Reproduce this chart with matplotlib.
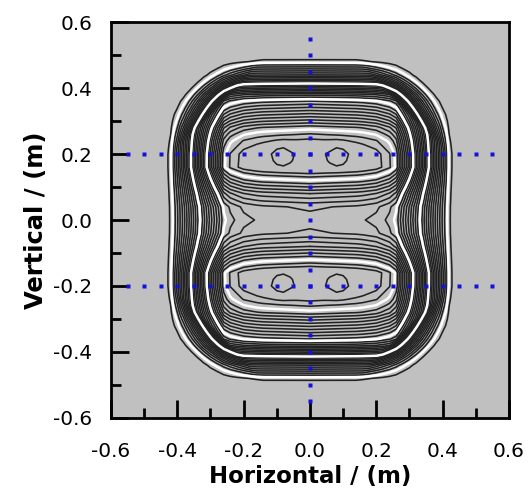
import numpy as np
import matplotlib.pyplot as plt

# field description (values in contour-level units)
row_y = [0.2, -0.2]            # centres of the two lobes
peak_x = [-0.086, 0.086]       # small peaks inside each lobe
peak_amp = 1.0
peak_sig = 0.02
centre_val = 18.6

# side profile of a lobe: distance from x = 0 -> level
prof_x_pos = [0.0, 0.15, 0.2, 0.255, 0.31, 0.386, 0.417, 0.435, 0.7]
prof_x_val = [18.6, 18.3, 17.95, 17.0, 12.0, 4.0, 1.0, 0.0, 0.0]
# outward (top of upper lobe / bottom of lower lobe)
prof_out_pos = [0.0, 0.04, 0.075, 0.17, 0.24, 0.264, 0.276, 0.29, 0.7]
prof_out_val = [18.6, 18.0, 17.0, 12.0, 4.0, 2.0, 1.0, 0.0, 0.0]
# inward (towards the waist at y = 0)
prof_in_pos = [0.0, 0.04, 0.08, 0.12, 0.16, 0.2, 0.24, 0.28, 0.32, 0.4, 0.5, 0.7]
prof_in_val = [18.6, 17.9, 15.2, 11.8, 8.8, 6.65, 4.8, 3.2, 1.8, 0.3, 0.0, 0.0]
# corner cut on the outer side
chamfer_pos = [0.0, 0.42, 0.58, 1.5]
chamfer_val = [1.0, 1.0, 0.0, 0.0]

grid_step = 0.02
levels = list(np.arange(0.5, 17.6, 0.5)) + [18.0, 19.0]
white_levels = [1.0, 7.0, 12.0, 17.0]

guide_pts = np.round(np.arange(-0.55, 0.551, 0.05), 2)
guide_rows = [0.2, -0.2]
guide_col = 0.0

xticks = [-0.6, -0.4, -0.2, 0.0, 0.2, 0.4, 0.6]
yticks = [-0.6, -0.4, -0.2, 0.0, 0.2, 0.4, 0.6]
minor_ticks = [-0.5, -0.3, -0.1, 0.1, 0.3, 0.5]

g = np.arange(-0.6, 0.6 + grid_step / 2, grid_step)
X, Y = np.meshgrid(g, g)
fx = np.interp(np.abs(X), prof_x_pos, prof_x_val)
Z = np.zeros_like(X)
for y0 in row_y:
    u = Y - y0
    au = np.abs(u)
    outward = np.sign(u) == np.sign(y0)
    fy = np.where(outward,
                  np.interp(au, prof_out_pos, prof_out_val),
                  np.interp(au, prof_in_pos, prof_in_val))
    cut = np.where(outward, np.interp(np.abs(X) + au, chamfer_pos, chamfer_val), 1.0)
    Z += fx * fy * cut / centre_val
    for x0 in peak_x:
        Z += peak_amp * np.exp(-((X - x0) ** 2 + (Y - y0) ** 2) / (2 * peak_sig ** 2))

plt.rcParams['font.family'] = ['DejaVu Sans']
fig = plt.figure(figsize=(5.32, 4.90), dpi=100)
ax = fig.add_axes([0.2086, 0.147, 0.748, 0.808])
ax.set_facecolor('#c0c0c0')

black_lv = [lv for lv in levels if lv not in white_levels]
ax.contour(X, Y, Z, levels=black_lv, colors='#222222', linewidths=1.15)
ax.contour(X, Y, Z, levels=white_levels, colors='white', linewidths=1.8)

for gy in guide_rows:
    ax.plot(guide_pts, [gy] * len(guide_pts), ls='none', marker='s', ms=3.4,
            mfc='#1212dc', mec='none', zorder=5, clip_on=False)
ax.plot([guide_col] * len(guide_pts), guide_pts, ls='none', marker='s', ms=3.4,
        mfc='#1212dc', mec='none', zorder=5, clip_on=False)

ax.set_xlim(-0.6, 0.6)
ax.set_ylim(-0.6, 0.6)
ax.set_xticks(xticks)
ax.set_yticks(yticks)
ax.set_xticklabels([f'{v:.1f}' for v in xticks])
ax.set_yticklabels([f'{v:.1f}' for v in yticks])
ax.set_xticks(minor_ticks, minor=True)
ax.set_yticks(minor_ticks, minor=True)
ax.tick_params(which='both', direction='in', top=False, right=False, width=2,
               labelsize=14.4)
ax.tick_params(axis='x', pad=17.5)
ax.tick_params(axis='y', pad=13.5)
ax.tick_params(which='major', length=13)
ax.tick_params(which='minor', length=7.5)
for s in ax.spines.values():
    s.set_linewidth(2)

ax.set_xlabel('Horizontal / (m)', fontsize=16.5, fontweight='bold', labelpad=3)
ax.set_ylabel('Vertical / (m)', fontsize=17.5, fontweight='bold', labelpad=4)

fig.savefig('out.png', dpi=100)
